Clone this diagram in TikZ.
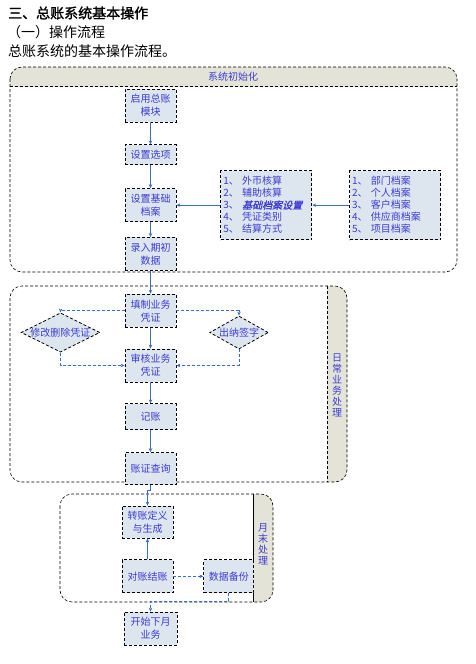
\documentclass[tikz,border=0pt]{standalone}
\usepackage{fontspec}
\setmainfont{Noto Sans CJK SC}
\newfontfamily\headfont[FakeBold=1.5]{Noto Sans CJK SC}
\newfontfamily\keyfont[FakeSlant=0.25,FakeBold=1.5]{Noto Sans CJK SC}
\usepackage{tikz}
\usetikzlibrary{positioning,shapes.geometric,arrows.meta}
\definecolor{boxfill}{HTML}{DDE5EF}
\definecolor{lanefill}{HTML}{E3E3D8}
\definecolor{textblue}{HTML}{3C3CD2}
\definecolor{lineblue}{HTML}{3A6CCC}
\tikzset{
	stepbox/.style={draw=black, densely dashed, line width=0.8pt, fill=boxfill, text=textblue,
		font=\fontsize{10}{13}\selectfont, align=center, minimum width=51pt, minimum height=33pt, inner sep=1pt},
	choice/.style={stepbox, diamond, aspect=2, inner sep=0pt},
	listbox/.style={stepbox, align=left, text width=86pt, minimum height=69pt, inner sep=2.5pt,
		font=\fontsize{10}{12}\selectfont},
	flow/.style={draw=lineblue, line width=0.8pt, -{Stealth[length=4pt,width=3.5pt]}},
	lane/.style={draw=black, densely dashed, line width=0.6pt, rounded corners=12pt},
	lanetext/.style={text=textblue, align=center, font=\fontsize{10}{11}\selectfont},
	heading/.style={anchor=west, inner sep=0pt, font=\fontsize{14}{14}\selectfont}
}

\begin{document}
\begin{tikzpicture}[x=1pt,y=-1pt]
		\useasboundingbox (0,0) rectangle (475,664);
		% Heading
		\node[heading, font=\headfont\fontsize{14}{14}\selectfont] (t1) at (8,13) {三、总账系统基本操作};
		\node[heading] (t2) at (7,32) {（一）操作流程};
		\node[heading] (t3) at (8,51) {总账系统的基本操作流程。};
		
		% Define lanes
		\begin{scope}
			\clip (10,67) rectangle (457,86);
			\fill[lanefill, rounded corners=12pt] (10,67) rectangle (457,272);
		\end{scope}
		\draw[lane] (10,67) rectangle (457,272);
		\draw[densely dashed, line width=0.6pt] (10,86) -- (457,86);
		\node[lanetext] (l1) at (233,76.5) {系统初始化};
		
		\begin{scope}
			\clip (327,286) rectangle (347,482);
			\fill[lanefill, rounded corners=12pt] (10,286) rectangle (347,482);
		\end{scope}
		\draw[lane] (10,286) rectangle (347,482);
		\draw[densely dashed, line width=0.6pt] (327,286) -- (327,482);
		\node[lanetext] (l2) at (337,385) {日\\常\\业\\务\\处\\理};
		
		\begin{scope}
			\clip (253,494) rectangle (273,602);
			\fill[lanefill, rounded corners=12pt] (60,494) rectangle (273,602);
		\end{scope}
		\draw[lane] (60,494) rectangle (273,602);
		\draw[line width=0.6pt] (253,494) -- (253,602);
		\node[lanetext] (l3) at (263,544) {月\\末\\处\\理};
		
		% Define nodes
		\node[stepbox] (qy) at (150.5,105.5) {启用总账\\模块};
		\node[stepbox, minimum height=20pt, below=22pt of qy] (xx) {设置选项};
		\node[stepbox, below=23pt of xx] (da) {设置基础\\档案};
		\node[stepbox, below=15pt of da] (qc) {录入期初\\数据};
		\node[listbox, right=44pt of da] (hs) {1、 外币核算\\2、 辅助核算\\3、 {\keyfont 基础档案设置}\\4、 凭证类别\\5、 结算方式};
		\node[listbox, right=37pt of hs] (ra) {1、 部门档案\\2、 个人档案\\3、 客户档案\\4、 供应商档案\\5、 项目档案};
		
		\node[stepbox, below=23pt of qc] (tz) {填制业务\\凭证};
		\node[stepbox, below=21pt of tz] (sh) {审核业务\\凭证};
		\node[stepbox, minimum height=26pt, below=21pt of sh] (jz) {记账};
		\node[stepbox, minimum height=32pt, below=22pt of jz] (cx) {账证查询};
		\node[choice] (xg) at (60.5,332.5) {修改删除凭证};
		\node[choice] (cn) at (239,332.5) {出纳签字};
		
		\node[stepbox, minimum height=32pt] (zz) at (147.5,522) {转账定义\\与生成};
		\node[stepbox, below=21pt of zz] (dz) {对账结账};
		\node[stepbox, minimum width=50pt, right=30pt of dz] (bf) {数据备份};
		\node[stepbox, minimum width=53pt] (xy) at (150.5,628.5) {开始下月\\业务};
		
		% Connect the nodes
		\draw[flow] (qy) -- (xx);
		\draw[flow] (xx) -- (da);
		\draw[flow] (da) -- (qc);
		\draw[flow] (ra) -- (hs);
		\draw[flow] (hs) -- (da);
		\draw[flow] (qc) -- (tz);
		\draw[flow] (tz) -- (sh);
		\draw[flow] (sh) -- (jz);
		\draw[flow] (jz) -- (cx);
		\draw[flow, densely dashed] (tz.west) -| (xg.north);
		\draw[flow, densely dashed] (tz.east) -| (cn.north);
		\draw[flow, densely dashed] (xg.south) |- (sh.west);
		\draw[flow, densely dashed] (cn.south) |- (sh.east);
		\draw[flow] (cx.south) -- ++(0,5) -| (zz.north);
		\draw[flow] (dz) -- (zz);
		\draw[flow, densely dashed] (dz) -- (bf);
		\draw[flow, densely dashed] (bf.south) -- ++(0,8) -| (xy.north);
	\end{tikzpicture}
\end{document}
